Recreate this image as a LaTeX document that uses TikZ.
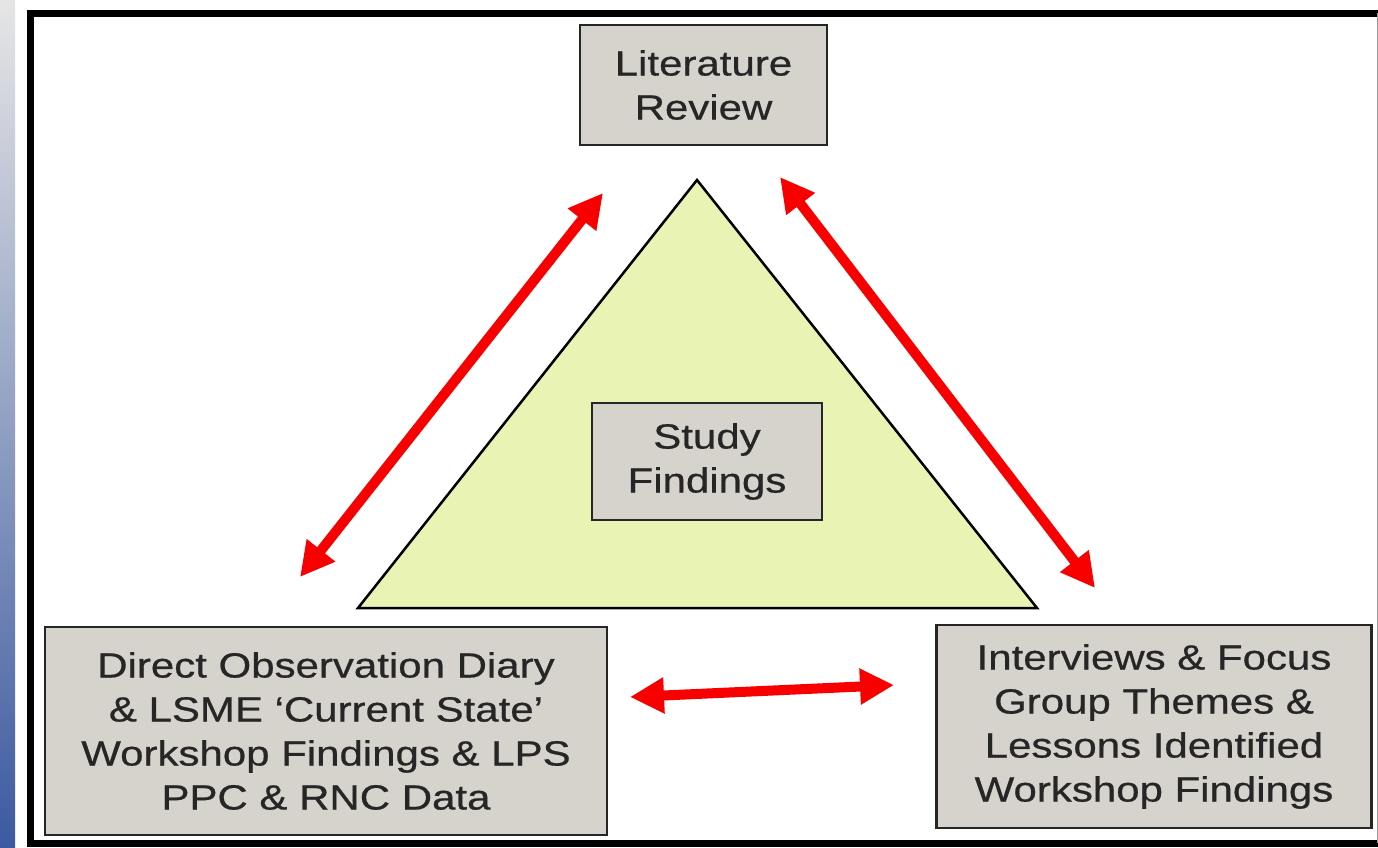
\documentclass[tikz,border=0pt]{standalone}
\usepackage{fontspec}
\setmainfont{Liberation Sans}[FakeStretch=1.2, FakeBold=0.6]
\usetikzlibrary{arrows.meta}

\definecolor{boxgrey}{RGB}{214,211,205}
\definecolor{trifill}{RGB}{233,243,180}
\definecolor{arrowred}{RGB}{248,0,0}
\definecolor{stripblue}{RGB}{60,90,160}

\begin{document}
\begin{tikzpicture}[x=1pt, y=-1pt, box/.style={
		% The shape:
		rectangle,
		% The border
		line width=2.5pt, draw=black!85,
		% The filling
		fill=boxgrey,
		% The text
		align=center, inner sep=0pt, text=black!85,
		font=\fontsize{35}{44}\selectfont},
	link/.style={line width=10pt, draw=arrowred,
		{Triangle[width=34pt,length=34pt]}-{Triangle[width=34pt,length=34pt]}}]
    \useasboundingbox (0,0) rectangle (1378,847);
    \fill[white] (0,0) rectangle (1378,847);
    % slide background on the left
    \shade[top color=black!10, middle color=stripblue!60, bottom color=stripblue] (0,0) rectangle (15,847);
    % frame
    \draw[line width=7pt] (1385,13) -- (30,13) -- (30,843) -- (1385,843);
    \draw[black!40, line width=1pt] (1377,13) -- (1377,843);
    % triangle
    \coordinate (top) at (697,180);
    \coordinate (right) at (1037,608);
    \coordinate (left) at (358,608);
    \filldraw[fill=trifill, draw=black, line width=2.5pt] (top) -- (right) -- (left) -- cycle;
    % boxes
    \node [box, minimum width=247, minimum height=120] (lit) at (703.5,85) {Literature\\Review};
    \node [box, minimum width=230, minimum height=117] (study) at (707,461.5) {Study\\Findings};
    \node [box, minimum width=562, minimum height=208] (obs) at (326,731) {Direct Observation Diary\\\& LSME `Current State'\\Workshop Findings \& LPS\\PPC \& RNC Data};
    \node [box, minimum width=435, minimum height=203] (intv) at (1154,726.5) {Interviews \& Focus\\Group Themes \&\\Lessons Identified\\Workshop Findings};
    % arrows
    \coordinate (a1) at (300,577);
    \coordinate (a2) at (603,193);
    \coordinate (b1) at (780,177);
    \coordinate (b2) at (1095,588);
    \coordinate (c1) at (630,697);
    \coordinate (c2) at (894,685);
    \draw [link] (a1) -- (a2);
    \draw [link] (b1) -- (b2);
    \draw [link] (c1) -- (c2);
\end{tikzpicture}
\end{document}
